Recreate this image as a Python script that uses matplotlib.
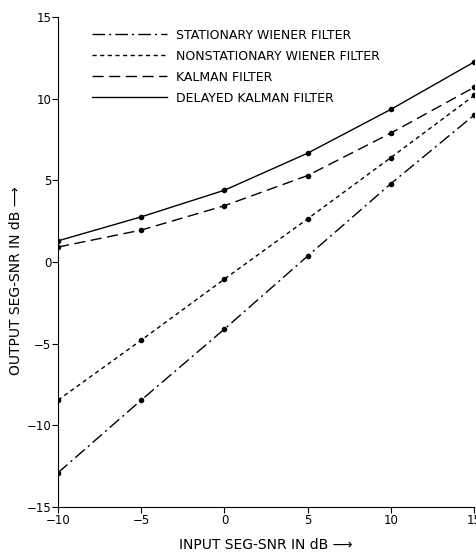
import numpy as np
import matplotlib.pyplot as plt

# input SEG-SNR (dB)
snr_in = [-10, -5, 0, 5, 10, 15]

# output SEG-SNR (dB)
stationary = [-12.9, -8.45, -4.1, 0.37, 4.8, 9.0]
nonstationary = [-8.45, -4.78, -1.04, 2.65, 6.4, 10.2]
kalman = [0.92, 1.96, 3.45, 5.3, 7.9, 10.7]
delayed = [1.3, 2.77, 4.4, 6.67, 9.35, 12.25]

labels = ['STATIONARY WIENER FILTER', 'NONSTATIONARY WIENER FILTER',
          'KALMAN FILTER', 'DELAYED KALMAN FILTER']

plt.rcParams['font.family'] = ['DejaVu Sans']
fig = plt.figure(figsize=(4.76, 5.52), dpi=100)
ax = fig.add_axes([0.122, 0.0815, 0.874, 0.8875])

styles = [(0, (9, 3, 1.5, 3)), (0, (3, 2.5)), (0, (8, 4)), '-']
for ys, ls, lab in zip([stationary, nonstationary, kalman, delayed], styles, labels):
    ax.plot(snr_in, ys, color='black', lw=1.0, linestyle=ls, label=lab,
            marker='o', markersize=3)

# legend without markers
handles = [plt.Line2D([], [], color='black', lw=1.0, linestyle=ls) for ls in styles]
ax.legend(handles, labels, loc='upper left', bbox_to_anchor=(0.06, 0.994),
          frameon=False, fontsize=9, handlelength=6, handletextpad=0.75,
          labelspacing=0.64, borderaxespad=0.3)

ax.set_xlim(-10, 15)
ax.set_ylim(-15, 15)
ax.set_xticks([-10, -5, 0, 5, 10, 15])
ax.set_yticks([-15, -10, -5, 0, 5, 10, 15])
ax.spines['top'].set_visible(False)
ax.spines['right'].set_visible(False)
ax.tick_params(direction='out', length=4, width=0.8, labelsize=8.5, pad=1)

ax.set_xlabel('INPUT SEG-SNR IN dB \u27f6', fontsize=10, labelpad=8)
ax.set_ylabel('OUTPUT SEG-SNR IN dB \u27f6', fontsize=10)
ax.yaxis.set_label_coords(-0.085, 0.463)

fig.savefig('out.png', dpi=100)
